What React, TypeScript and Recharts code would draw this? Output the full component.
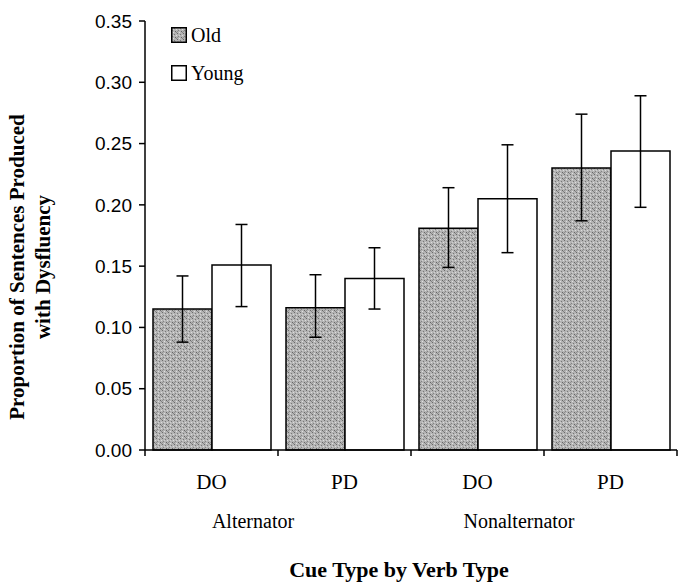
import { Bar, BarChart, ErrorBar, XAxis, YAxis } from 'recharts'

const categories = ['DO', 'PD', 'DO', 'PD']
const groups = ['Alternator', 'Nonalternator']

const oldMeans = [0.115, 0.116, 0.181, 0.23]
const oldLower = [0.088, 0.092, 0.149, 0.187]
const oldUpper = [0.142, 0.143, 0.214, 0.274]

const youngMeans = [0.151, 0.14, 0.205, 0.244]
const youngLower = [0.117, 0.115, 0.161, 0.198]
const youngUpper = [0.184, 0.165, 0.249, 0.289]

const yTicks = [0, 0.05, 0.1, 0.15, 0.2, 0.25, 0.3, 0.35]

const W = 684
const H = 586
const X_AXIS_H = 30
const MARGIN = { top: 21, right: 7, bottom: 136 - X_AXIS_H, left: 65 }
const Y_AXIS_W = 80
const PLOT_LEFT = MARGIN.left + Y_AXIS_W
const PLOT_W = W - PLOT_LEFT - MARGIN.right
const HALF_BAND = PLOT_W / categories.length / 2

const serif = '"Liberation Serif", "Times New Roman", serif'
const sans = '"Liberation Sans", Arial, sans-serif'

const data = categories.map((cue, i) => ({
  cue,
  old: oldMeans[i],
  oldErr: [oldMeans[i] - oldLower[i], oldUpper[i] - oldMeans[i]],
  young: youngMeans[i],
  youngErr: [youngMeans[i] - youngLower[i], youngUpper[i] - youngMeans[i]],
}))

function CueTick(props: any) {
  const { x, y, payload, index } = props
  const last = index === categories.length - 1
  return (
    <g>
      <line x1={x - HALF_BAND} x2={x - HALF_BAND} y1={y} y2={y + 6} stroke="#000" strokeWidth={1.5} />
      {last && (
        <line x1={x + HALF_BAND} x2={x + HALF_BAND} y1={y} y2={y + 6} stroke="#000" strokeWidth={1.5} />
      )}
      <text x={x} y={y + 39} textAnchor="middle" fontFamily={serif} fontSize={21} fill="#000">
        {payload.value}
      </text>
    </g>
  )
}

function XLabels(props: any) {
  const { viewBox } = props
  const { x, y, width } = viewBox
  const cx = x + width / 2
  return (
    <g>
      {groups.map((g, i) => (
        <text
          key={g}
          x={x + HALF_BAND * (4 * i + 2) - 25}
          y={y + 78}
          textAnchor="middle"
          fontFamily={serif}
          fontSize={20}
          fill="#000"
        >
          {g}
        </text>
      ))}
      <text
        x={cx - 12}
        y={y + 127}
        textAnchor="middle"
        fontFamily={serif}
        fontWeight="bold"
        fontSize={22}
        fill="#000"
      >
        Cue Type by Verb Type
      </text>
    </g>
  )
}

function YLabel() {
  const cy = 267
  const lines = [
    { x: 17, t: 'Proportion of Sentences Produced' },
    { x: 43, t: 'with Dysfluency' },
  ]
  return (
    <g>
      {lines.map((l) => (
        <text
          key={l.t}
          x={l.x}
          y={cy}
          transform={`rotate(-90, ${l.x}, ${cy})`}
          textAnchor="middle"
          dominantBaseline="central"
          fontFamily={serif}
          fontWeight="bold"
          fontSize={21}
          fill="#000"
        >
          {l.t}
        </text>
      ))}
    </g>
  )
}

const legendItems = [
  { name: 'Old', fill: 'url(#stipple)' },
  { name: 'Young', fill: '#fff' },
]

function LegendBox() {
  return (
    <div style={{ position: 'absolute', left: 171, top: 16, fontFamily: serif, fontSize: 20, color: '#000' }}>
      {legendItems.map((it) => (
        <div key={it.name} style={{ display: 'flex', alignItems: 'center', height: 38 }}>
          <svg width={16} height={16} style={{ marginRight: 4 }}>
            <rect x={0.75} y={0.75} width={14.5} height={14.5} fill={it.fill} stroke="#000" strokeWidth={1.5} />
          </svg>
          {it.name}
        </div>
      ))}
    </div>
  )
}

export default function App() {
  return (
    <div style={{ position: 'absolute', left: 0, top: 0, width: W, height: H, background: '#fff' }}>
      <svg width={0} height={0} style={{ position: 'absolute' }}>
        <defs>
          <pattern id="stipple" width={6} height={6} patternUnits="userSpaceOnUse">
            <rect width={6} height={6} fill="#b4b4b4" />
            <rect x={0} y={0} width={1} height={1} fill="#6a6a6a" />
            <rect x={3} y={1} width={1} height={1} fill="#787878" />
            <rect x={1} y={3} width={1} height={1} fill="#838383" />
            <rect x={4} y={4} width={1} height={1} fill="#666" />
            <rect x={2} y={5} width={1} height={1} fill="#e0e0e0" />
            <rect x={5} y={2} width={1} height={1} fill="#dcdcdc" />
            <rect x={5} y={5} width={1} height={1} fill="#858585" />
            <rect x={2} y={2} width={1} height={1} fill="#d0d0d0" />
            <rect x={0} y={4} width={1} height={1} fill="#909090" />
          </pattern>
        </defs>
      </svg>
      <BarChart width={W} height={H} data={data} margin={MARGIN} barCategoryGap={8} barGap={0}>
        <XAxis
          dataKey="cue"
          height={X_AXIS_H}
          tick={<CueTick />}
          tickLine={false}
          tickSize={0}
          tickMargin={0}
          axisLine={{ stroke: '#000', strokeWidth: 1.5 }}
          interval={0}
          label={{ content: <XLabels /> }}
        />
        <YAxis
          width={Y_AXIS_W}
          domain={[0, 0.35]}
          ticks={yTicks}
          tickFormatter={(v: number) => v.toFixed(2)}
          tick={{ fontSize: 19, fill: '#000', fontFamily: sans }}
          tickSize={6}
          tickMargin={7}
          tickLine={{ stroke: '#000', strokeWidth: 1.5 }}
          axisLine={{ stroke: '#000', strokeWidth: 1.5 }}
          label={{ content: <YLabel /> }}
        />
        <Bar dataKey="old" name="Old" fill="url(#stipple)" stroke="#000" strokeWidth={1.5} isAnimationActive={false}>
          <ErrorBar dataKey="oldErr" width={6} stroke="#000" strokeWidth={1.5} />
        </Bar>
        <Bar dataKey="young" name="Young" fill="#fff" stroke="#000" strokeWidth={1.5} isAnimationActive={false}>
          <ErrorBar dataKey="youngErr" width={6} stroke="#000" strokeWidth={1.5} />
        </Bar>
      </BarChart>
      <LegendBox />
    </div>
  )
}
